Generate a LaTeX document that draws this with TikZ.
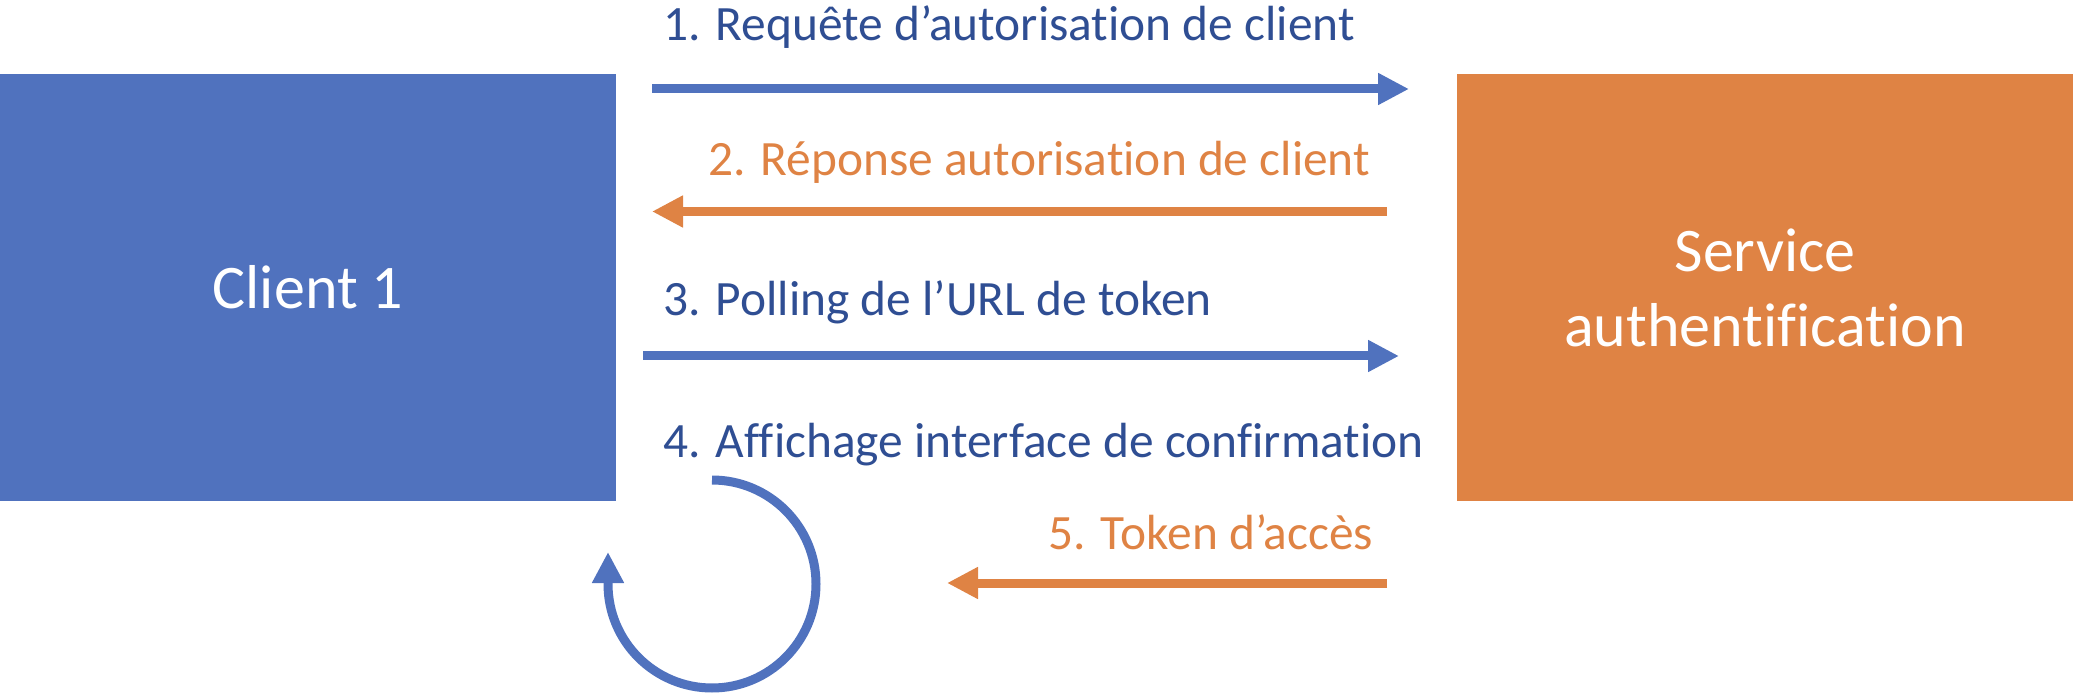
\documentclass[tikz,border=0pt]{standalone}
\usepackage{fontspec}
\setmainfont{Carlito}[Ligatures=NoCommon]
\usetikzlibrary{arrows.meta}
\definecolor{boxblue}{HTML}{5072BE}
\definecolor{boxorange}{HTML}{DF8344}
\definecolor{textblue}{HTML}{2F4E93}
\tikzset{>={Triangle[width=15pt,length=15.5pt]},
  actor/.style={minimum width=308pt,minimum height=213.5pt,inner sep=0pt,text=white,
    font=\fontsize{31}{37.5}\selectfont,align=center},
  msg/.style={line width=4.5pt},
  lbl/.style={anchor=base west,inner sep=0pt,font=\fontsize{24.7}{29}\selectfont}}

\begin{document}
\begin{tikzpicture}[x=0.5pt,y=-0.5pt]
\useasboundingbox (0,0) rectangle (2073,700);
\node[actor,fill=boxblue] (C) at (308,287.5) {Client 1};
\node[actor,fill=boxorange] (S) at (1765,287.5) {Service\\authentification};
% message ends
\coordinate (m1a) at (652,89);   \coordinate (m1b) at (1409,89);
\coordinate (m2a) at (1387,211.5); \coordinate (m2b) at (652,211.5);
\coordinate (m3a) at (643,356);  \coordinate (m3b) at (1399,356);
\coordinate (m5a) at (1387,583); \coordinate (m5b) at (947,583);
\coordinate (loop) at (712,480);
\path[->,msg] (m1a) edge[boxblue] (m1b);
\path[->,msg] (m2a) edge[boxorange] (m2b);
\path[->,msg] (m3a) edge[boxblue] (m3b);
\path[->,msg] (m5a) edge[boxorange] (m5b);
\draw[->,msg,boxblue] (loop) arc[start angle=-90,end angle=180,radius=104] -- ++(0,-32);
% labels
\node[lbl,text=textblue] (l1) at (663,41) {1. Requête d’autorisation de client};
\node[lbl,text=boxorange] (l2) at (708,176) {2. Réponse autorisation de client};
\node[lbl,text=textblue] (l3) at (663,315) {3. Polling de l’URL de token};
\node[lbl,text=textblue] (l4) at (663,457) {4. Affichage interface de confirmation};
\node[lbl,text=boxorange] (l5) at (1048,549) {5. Token d’accès};
\end{tikzpicture}
\end{document}
